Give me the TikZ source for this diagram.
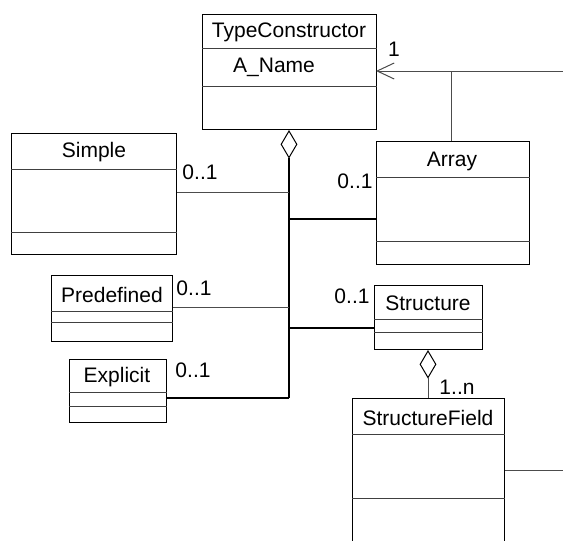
\documentclass[tikz,border=0pt]{standalone}
\usepackage{fontspec}
\setmainfont{Liberation Sans}
\usetikzlibrary{arrows.meta,shapes.geometric}
\begin{document}
\begin{tikzpicture}[x=1pt,y=-1pt,
  umlbox/.style={draw=black,line width=1.3pt,fill=none,inner sep=0pt,anchor=north west},
  div/.style={draw=black!75,line width=0.9pt},
  lbl/.style={inner sep=0pt,font=\fontsize{21}{25}\selectfont},
  thin/.style={draw=black!70,line width=1pt},
  thick/.style={draw=black,line width=1.8pt},
  agg/.style={diamond,draw=black,line width=1pt,fill=white,inner sep=0pt,minimum width=16pt,minimum height=27pt,aspect=0.6}]
\useasboundingbox (0,0) rectangle (563,541);
\clip (0,0) rectangle (563,541);

% class boxes
\node[umlbox,minimum width=174pt,minimum height=115pt] (tc) at (202,14) {};
\node[umlbox,minimum width=165pt,minimum height=121pt] (simple) at (11,133) {};
\node[umlbox,minimum width=153pt,minimum height=123pt] (arr) at (376,141) {};
\node[umlbox,minimum width=121pt,minimum height=66pt] (pre) at (51,275) {};
\node[umlbox,minimum width=97pt,minimum height=63pt] (exp) at (69,359) {};
\node[umlbox,minimum width=108pt,minimum height=64pt] (st) at (374,285) {};
\node[umlbox,minimum width=152pt,minimum height=170pt] (sf) at (352,398) {};

% compartment separators
\draw[div] ([yshift=-34pt]tc.north west) -- ([yshift=-34pt]tc.north east);
\draw[div] ([yshift=-72pt]tc.north west) -- ([yshift=-72pt]tc.north east);
\draw[div] ([yshift=-36pt]simple.north west) -- ([yshift=-36pt]simple.north east);
\draw[div] ([yshift=-99pt]simple.north west) -- ([yshift=-99pt]simple.north east);
\draw[div] ([yshift=-36pt]arr.north west) -- ([yshift=-36pt]arr.north east);
\draw[div] ([yshift=-100pt]arr.north west) -- ([yshift=-100pt]arr.north east);
\draw[div] ([yshift=-36pt]pre.north west) -- ([yshift=-36pt]pre.north east);
\draw[div] ([yshift=-47pt]pre.north west) -- ([yshift=-47pt]pre.north east);
\draw[div] ([yshift=-33pt]exp.north west) -- ([yshift=-33pt]exp.north east);
\draw[div] ([yshift=-47pt]exp.north west) -- ([yshift=-47pt]exp.north east);
\draw[div] ([yshift=-34pt]st.north west) -- ([yshift=-34pt]st.north east);
\draw[div] ([yshift=-47pt]st.north west) -- ([yshift=-47pt]st.north east);
\draw[div] ([yshift=-36pt]sf.north west) -- ([yshift=-36pt]sf.north east);
\draw[div] ([yshift=-100pt]sf.north west) -- ([yshift=-100pt]sf.north east);

% class names and attributes
\node[lbl] (tcname) at (289,32) {TypeConstructor};
\node[lbl,anchor=west] (tcattr) at (233,67) {A\_Name};
\node[lbl] (simplename) at (94,152) {Simple};
\node[lbl] (arrname) at (452,161) {Array};
\node[lbl] (prename) at (112,295) {Predefined};
\node[lbl] (expname) at (117,377) {Explicit};
\node[lbl] (stname) at (428,303) {Structure};
\node[lbl] (sfname) at (428,418) {StructureField};

% aggregation of the variants into TypeConstructor
\node[agg,anchor=north] (d1) at (tc.south -| 289,0) {};
\coordinate (jsimple) at (289,192);
\coordinate (jarr) at (289,219);
\coordinate (jpre) at (289,307);
\coordinate (jst) at (289,328);
\coordinate (jexp) at (289,398);
\draw[thick] (d1.south) -- (jexp);
\draw[thin] (simple.east |- jsimple) -- (jsimple);
\draw[thick] (jarr) -- (arr.west |- jarr);
\draw[thin] (pre.east |- jpre) -- (jpre);
\draw[thick] (jst) -- (st.west |- jst);
\draw[thick] (exp.east |- jexp) -- (jexp);

% multiplicities
\node[lbl] (m1) at (200,172) {0..1};
\node[lbl] (m2) at (355,181) {0..1};
\node[lbl] (m3) at (194,288) {0..1};
\node[lbl] (m4) at (352,296) {0..1};
\node[lbl] (m5) at (193,370) {0..1};
\node[lbl] (m6) at (457,387) {1..n};
\node[lbl] (m7) at (394,49) {1};

% directed association back to TypeConstructor
\coordinate (tcin) at (376,71);
\coordinate (rightend) at (563,71);
\coordinate (arrup) at (451,71);
\draw[thin,-{Straight Barb[length=17pt,width=16pt,line width=1pt]}] (rightend) -- (tcin);
\draw[thin] (arr.north -| arrup) -- (arrup);

% Structure aggregates StructureField
\node[agg,anchor=north] (d2) at (st.south -| 428,0) {};
\draw[thin] (d2.south) -- (sf.north -| d2.south);
\coordinate (sfright) at (563,470);
\draw[thin] (sf.east |- sfright) -- (sfright);
\end{tikzpicture}
\end{document}
